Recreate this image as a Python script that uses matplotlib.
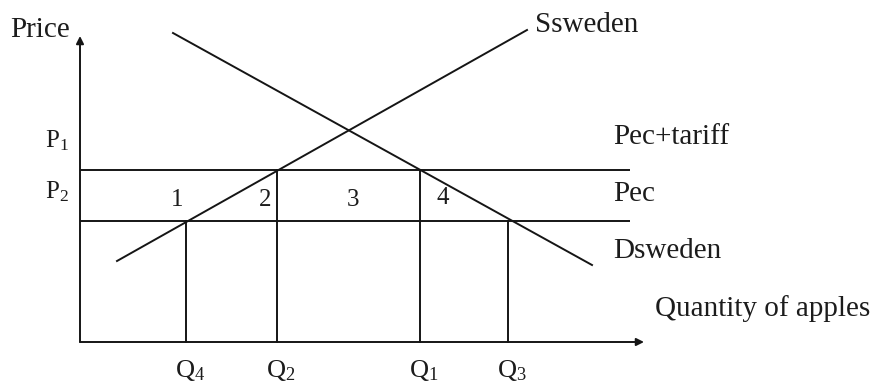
import matplotlib
matplotlib.use("Agg")
import matplotlib.pyplot as plt

plt.rcParams['font.family'] = ['Liberation Serif', 'DejaVu Serif']
plt.rcParams['mathtext.fontset'] = 'custom'
plt.rcParams['mathtext.rm'] = 'Liberation Serif'
plt.rcParams['mathtext.it'] = 'Liberation Serif:italic'

# ---- data (economic diagram, arbitrary units) ----
price_levels = [17.2, 12.1]            # Pec+tariff (P1), Pec (P2)
price_labels = ["P$_\\mathrm{1}$", "P$_\\mathrm{2}$"]
line_labels = ["Pec+tariff", "Pec"]
quantities = [10.6, 19.7, 34.0, 42.8]  # Q4, Q2, Q1, Q3
q_labels = ["Q$_\\mathrm{4}$", "Q$_\\mathrm{2}$", "Q$_\\mathrm{1}$", "Q$_\\mathrm{3}$"]
q_tops = [12.1, 17.2, 17.2, 12.1]      # each vertical rises to this price line
supply_q = [3.7, 44.7]
supply_p = [8.1, 31.2]
demand_q = [9.3, 51.2]
demand_p = [30.9, 7.7]
area_labels = ["1", "2", "3", "4"]
area_q = [9.7, 18.5, 27.3, 36.3]
area_p = [13.6, 13.6, 13.6, 13.8]

fig = plt.figure(figsize=(8.81, 3.85), dpi=100)
ax = fig.add_axes([0, 0, 1, 1])
ax.set_xlim(-8.0, 80.1)
ax.set_ylim(-4.3, 34.2)
ax.axis('off')

lc = '#151515'
tc = '#1c1c1c'
lw = 1.4

# axes with arrows
ax.annotate('', xy=(0, 30.6), xytext=(0, 0),
            arrowprops=dict(arrowstyle='-|>', color=lc, lw=lw, mutation_scale=11, shrinkA=0, shrinkB=0))
ax.annotate('', xy=(56.4, 0), xytext=(0, 0),
            arrowprops=dict(arrowstyle='-|>', color=lc, lw=lw, mutation_scale=11, shrinkA=0, shrinkB=0))

# price lines
for p in price_levels:
    ax.plot([0, 55.0], [p, p], color=lc, lw=lw, solid_capstyle='butt')

# supply and demand
ax.plot(supply_q, supply_p, color=lc, lw=lw)
ax.plot(demand_q, demand_p, color=lc, lw=lw)

# verticals
for q, top in zip(quantities, q_tops):
    ax.plot([q, q], [0, top], color=lc, lw=lw)

fs = 21
ax.text(-7.0, 30.5, "Price", fontsize=fs, color=tc, ha='left', va='baseline')
for p, lab in zip(price_levels, price_labels):
    ax.text(-3.5, p + 2.3, lab, fontsize=18, color=tc, ha='left', va='baseline')
for q, lab in zip(quantities, q_labels):
    ax.text(q - 1.1, -3.5, lab, fontsize=19, color=tc, ha='left', va='baseline')
for q, p, lab in zip(area_q, area_p, area_labels):
    ax.text(q, p, lab, fontsize=18, color=tc, ha='center', va='baseline')

ax.text(45.5, 31.0, "Ssweden", fontsize=fs, color=tc, ha='left', va='baseline')
ax.text(53.3, price_levels[0] + 2.6, line_labels[0], fontsize=fs, color=tc, ha='left', va='baseline')
ax.text(53.3, price_levels[1] + 2.0, line_labels[1], fontsize=fs, color=tc, ha='left', va='baseline')
ax.text(53.3, 8.4, "Dsweden", fontsize=fs, color=tc, ha='left', va='baseline')
ax.text(57.5, 2.6, "Quantity of apples", fontsize=fs, color=tc, ha='left', va='baseline')

fig.savefig("out.png", dpi=100, facecolor='white')
